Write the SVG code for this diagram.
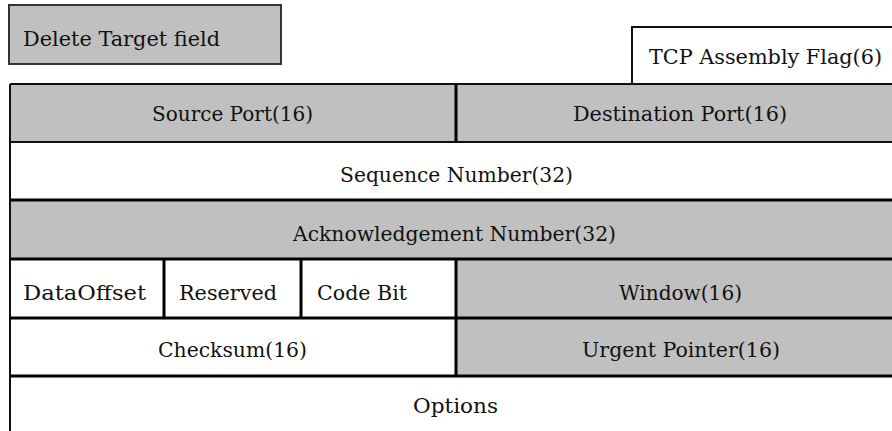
<svg xmlns="http://www.w3.org/2000/svg" width="892" height="431" viewBox="0 0 892 431">
  <style>
    .lbl { font-family: "DejaVu Serif", "Liberation Serif", serif; font-size: 20px; fill: #111111; }
    .gray { fill: #c0c0c0; }
    .white { fill: #ffffff; }
    .rule { stroke: #111111; stroke-width: 2; fill: none; }
    .thick { stroke: #000000; stroke-width: 3; fill: none; }
  </style>

  <rect width="892" height="431" fill="#ffffff"/>

  <!-- legend: field to be deleted -->
  <g id="legend-delete">
    <rect x="9" y="5" width="272" height="59" class="gray" stroke="#333333" stroke-width="2"/>
    <text class="lbl" x="23" y="46" textLength="197" lengthAdjust="spacingAndGlyphs">Delete Target field</text>
  </g>

  <!-- assembly flag tab above the header -->
  <g id="tcp-assembly-flag">
    <rect x="632" y="27" width="262" height="57" class="white" stroke="#111111" stroke-width="2"/>
    <text class="lbl" x="649" y="64" textLength="233" lengthAdjust="spacingAndGlyphs">TCP Assembly Flag(6)</text>
  </g>

  <!-- row 1 -->
  <g id="source-port">
    <rect x="10" y="84" width="446" height="58" class="gray"/>
    <text class="lbl" x="152" y="121" textLength="161" lengthAdjust="spacingAndGlyphs">Source Port(16)</text>
  </g>
  <g id="destination-port">
    <rect x="456" y="84" width="436" height="58" class="gray"/>
    <text class="lbl" x="573" y="121" textLength="214" lengthAdjust="spacingAndGlyphs">Destination Port(16)</text>
  </g>

  <!-- row 2 -->
  <g id="sequence-number">
    <rect x="10" y="142" width="882" height="58" class="white"/>
    <text class="lbl" x="340" y="182" textLength="233" lengthAdjust="spacingAndGlyphs">Sequence Number(32)</text>
  </g>

  <!-- row 3 -->
  <g id="acknowledgement-number">
    <rect x="10" y="200" width="882" height="59" class="gray"/>
    <text class="lbl" x="293" y="241" textLength="323" lengthAdjust="spacingAndGlyphs">Acknowledgement Number(32)</text>
  </g>

  <!-- row 4 -->
  <g id="data-offset">
    <rect x="10" y="259" width="154" height="59" class="white"/>
    <text class="lbl" x="23" y="300" textLength="123" lengthAdjust="spacingAndGlyphs">DataOffset</text>
  </g>
  <g id="reserved">
    <rect x="164" y="259" width="137" height="59" class="white"/>
    <text class="lbl" x="179" y="300" textLength="98" lengthAdjust="spacingAndGlyphs">Reserved</text>
  </g>
  <g id="code-bit">
    <rect x="301" y="259" width="155" height="59" class="white"/>
    <text class="lbl" x="317" y="300" textLength="90" lengthAdjust="spacingAndGlyphs">Code Bit</text>
  </g>
  <g id="window">
    <rect x="456" y="259" width="436" height="59" class="gray"/>
    <text class="lbl" x="619" y="300" textLength="123" lengthAdjust="spacingAndGlyphs">Window(16)</text>
  </g>

  <!-- row 5 -->
  <g id="checksum">
    <rect x="10" y="318" width="446" height="58" class="white"/>
    <text class="lbl" x="158" y="357" textLength="149" lengthAdjust="spacingAndGlyphs">Checksum(16)</text>
  </g>
  <g id="urgent-pointer">
    <rect x="456" y="318" width="436" height="58" class="gray"/>
    <text class="lbl" x="582" y="357" textLength="198" lengthAdjust="spacingAndGlyphs">Urgent Pointer(16)</text>
  </g>

  <!-- row 6 (open at the bottom) -->
  <g id="options">
    <rect x="10" y="376" width="882" height="55" class="white"/>
    <text class="lbl" x="413" y="413" textLength="85" lengthAdjust="spacingAndGlyphs">Options</text>
  </g>

  <!-- table rules -->
  <g id="grid">
    <path class="rule" d="M10 84 H892 M10 142 H892 M10 84 V431"/>
    <path class="thick" d="M10 200 H892 M10 259 H892 M10 318 H892 M10 376 H892"/>
    <path class="thick" d="M456 84 V142 M456 259 V376 M164 259 V318 M301 259 V318"/>
  </g>
</svg>
